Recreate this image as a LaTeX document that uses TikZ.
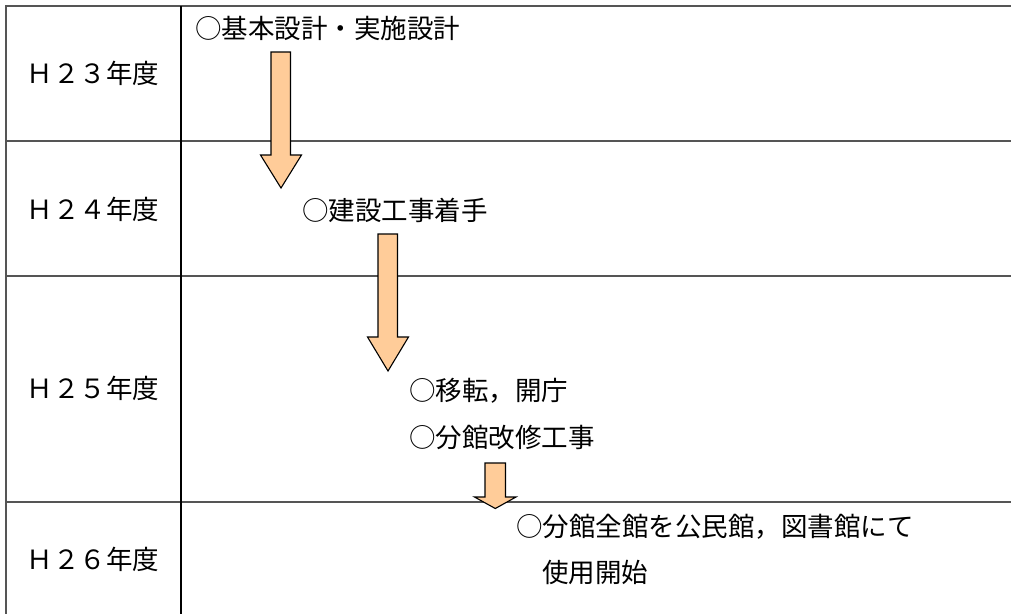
\documentclass[tikz,border=0pt]{standalone}
\usepackage{fontspec}
\newfontfamily\jp{Noto Sans CJK JP}
\definecolor{arrowfill}{HTML}{FFCC99}
\definecolor{gridgray}{HTML}{555555}
\begin{document}
\begin{tikzpicture}[x=1pt,y=-1pt,
  gridline/.style={draw=gridgray,line width=1.4pt},
  divline/.style={draw=black,line width=1.3pt},
  txt/.style={font=\jp\fontsize{26.5}{27}\selectfont,inner sep=0pt,anchor=west,text height=0.88em,text depth=0.12em},
  yr/.style={font=\jp\fontsize{26.5}{27}\selectfont,inner sep=0pt,text height=0.88em,text depth=0.12em},
  blockarrow/.style={draw=black,line width=1.1pt,fill=arrowfill,line join=miter}]
\useasboundingbox (0,0) rectangle (1011,614);
% table
\draw[gridline] (6,6) -- (1011,6);
\draw[gridline] (6,141) -- (1011,141);
\draw[gridline] (6,276) -- (1011,276);
\draw[gridline] (6,502) -- (1011,502);
\draw[gridline] (6,5.3) -- (6,614);
\draw[divline] (181,6) -- (181,614);
% year labels
\node[yr] (y23) at (93,80) {Ｈ２３年度};
\node[yr] (y24) at (93,216) {Ｈ２４年度};
\node[yr] (y25) at (93,395) {Ｈ２５年度};
\node[yr] (y26) at (93,566) {Ｈ２６年度};
% items
\node[txt] (t1) at (195,35) {○基本設計・実施設計};
\node[txt] (t2) at (302,217) {○建設工事着手};
\node[txt] (t3) at (409,397) {○移転，開庁};
\node[txt] (t4) at (409,444) {○分館改修工事};
\node[txt] (t5) at (516,533) {○分館全館を公民館，図書館にて};
\node[txt] (t6) at (542,579) {使用開始};
% block arrows
\draw[blockarrow] (271,52) -- (290.5,52) -- (290.5,155) -- (301.5,155) -- (281,188) -- (260.5,155) -- (271,155) -- cycle;
\draw[blockarrow] (378,234) -- (397.5,234) -- (397.5,337) -- (408.5,337) -- (388,371) -- (367.5,337) -- (378,337) -- cycle;
\draw[blockarrow] (485,463) -- (505.5,463) -- (505.5,497) -- (516,497) -- (495.3,508.5) -- (474.5,497) -- (485,497) -- cycle;
\end{tikzpicture}
\end{document}
